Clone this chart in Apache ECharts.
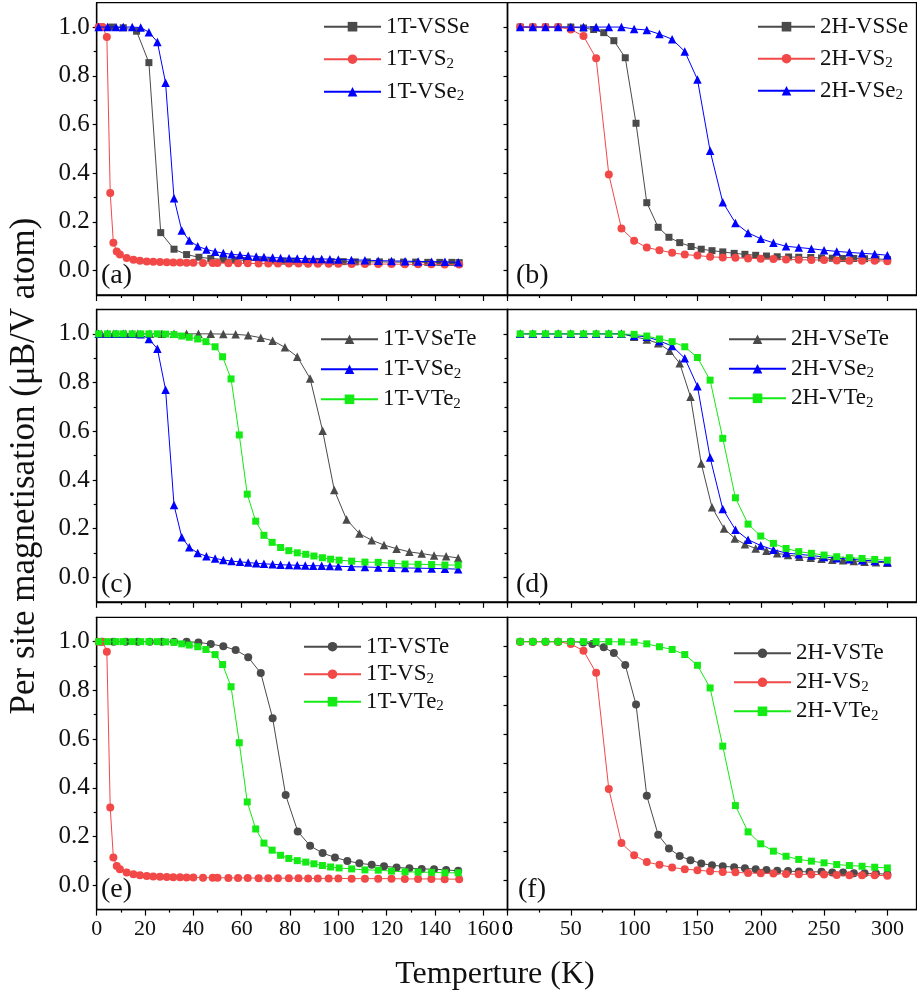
<!DOCTYPE html>
<html><head><meta charset="utf-8">
<script src="https://cdn.jsdelivr.net/npm/echarts@6/dist/echarts.min.js"></script>
<style>html,body{margin:0;padding:0;background:#fff}#c{width:917px;height:992px}</style>
</head><body><div id="c"></div>
<script>
// ---------------- DATA ----------------
// Temperatures (K) and per-site magnetisation (muB / V atom)
const T_1T_VSSe = [1.5, 6.2, 11, 16.5, 21.6, 26.5, 32, 37.2, 42.3, 47.2, 52.4, 57.2, 62, 67, 72, 77, 82, 87, 92, 97, 102, 107, 112, 117, 122, 127, 132, 137, 142, 147, 150];
const M_1T_VSSe = [1.0, 1.0, 0.997, 0.983, 0.854, 0.156, 0.088, 0.066, 0.055, 0.05, 0.046, 0.044, 0.042, 0.041, 0.04, 0.039, 0.039, 0.038, 0.038, 0.037, 0.037, 0.036, 0.036, 0.036, 0.035, 0.035, 0.035, 0.034, 0.034, 0.034, 0.033];

const T_1T_VS2 = [0.8, 2.5, 4.2, 5.6, 6.9, 8.3, 9.6, 12.4, 15.2, 17.9, 20.7, 23.4, 26.2, 29, 31.7, 34.5, 37.2, 40, 44, 48, 50, 54.5, 58.5, 62.5, 67, 71, 75, 79.5, 83.5, 87.5, 91.5, 96, 100, 105.5, 111, 116.5, 122, 127.5, 133, 138.5, 144, 150];
const M_1T_VS2 = [1.0, 1.0, 0.959, 0.319, 0.114, 0.079, 0.066, 0.052, 0.045, 0.041, 0.038, 0.036, 0.035, 0.034, 0.033, 0.033, 0.032, 0.032, 0.031, 0.031, 0.031, 0.030, 0.030, 0.030, 0.029, 0.029, 0.029, 0.029, 0.029, 0.028, 0.028, 0.028, 0.028, 0.027, 0.027, 0.027, 0.027, 0.026, 0.026, 0.026, 0.025, 0.025];

const T_1T_VSe2 = [0.8, 4.5, 8, 11, 14.7, 18.2, 21.6, 25.1, 28.5, 32, 35.2, 38.3, 41.8, 45.4, 49, 52.4, 55.8, 59.3, 62.7, 66, 69.2, 72.8, 76.1, 79.6, 83, 86.3, 89.6, 93.1, 96.5, 100, 105.4, 111, 116.5, 122, 127.6, 133, 138.6, 144.1, 149.6];
const M_1T_VSe2 = [1, 1, 1, 1, 1, 0.998, 0.979, 0.939, 0.771, 0.297, 0.165, 0.124, 0.1, 0.087, 0.078, 0.072, 0.067, 0.064, 0.061, 0.058, 0.056, 0.054, 0.052, 0.051, 0.05, 0.049, 0.048, 0.048, 0.047, 0.046, 0.044, 0.043, 0.041, 0.04, 0.039, 0.038, 0.037, 0.036, 0.034];

const T_1T_VSeTe = [2, 7, 12, 17, 22, 27, 32, 37.2, 42.1, 47.2, 52.4, 57.5, 62.7, 67.9, 72.8, 77.9, 83, 88.3, 93.5, 98.3, 103.4, 108.7, 113.8, 118.9, 124.1, 129.4, 134.5, 139.6, 144.6, 149.6];
const M_1T_VSeTe = [1, 1, 1, 1, 1, 1, 1, 1, 1, 1, 0.999, 0.998, 0.994, 0.984, 0.972, 0.945, 0.906, 0.817, 0.602, 0.359, 0.238, 0.18, 0.153, 0.133, 0.118, 0.105, 0.098, 0.09, 0.087, 0.08];

const T_1T_VTe2 = [0.8, 4.5, 8, 11, 14.7, 18.2, 21.6, 25.1, 28.5, 32, 35.2, 38.3, 41.8, 45.2, 49, 52.1, 55.6, 59, 62.3, 65.8, 69.2, 72.6, 76.1, 79.5, 83, 86.5, 89.9, 93.4, 96.8, 100.3, 105.5, 111, 116.5, 122, 127.6, 133, 138.6, 144.1, 149.6];
const M_1T_VTe2 = [1, 1, 1, 1, 1, 1, 1, 1, 0.999, 0.997, 0.991, 0.986, 0.979, 0.968, 0.947, 0.906, 0.815, 0.585, 0.342, 0.231, 0.173, 0.144, 0.123, 0.11, 0.101, 0.095, 0.088, 0.081, 0.075, 0.071, 0.067, 0.063, 0.062, 0.058, 0.055, 0.054, 0.053, 0.051, 0.051];

const T_1T_VSTe = [2, 7, 12, 17, 22, 27, 32, 37.2, 42.1, 47.2, 52.4, 57.5, 62.7, 67.9, 72.8, 78.2, 83.2, 88.3, 93.5, 98.6, 103.7, 108.7, 113.8, 118.9, 124.1, 129.4, 134.5, 139.6, 144.6, 149.6];
const M_1T_VSTe = [1, 1, 1, 1, 1, 1, 1, 1, 0.997, 0.99, 0.981, 0.966, 0.936, 0.871, 0.686, 0.37, 0.221, 0.162, 0.132, 0.114, 0.1, 0.09, 0.084, 0.078, 0.073, 0.07, 0.067, 0.066, 0.063, 0.059];

const T_2H_VSSe = [10, 20, 30, 40, 50, 60, 68, 76, 84, 93, 101.5, 110, 119, 127.5, 136, 145, 153, 161.5, 170, 179, 187.5, 196, 204.5, 213, 222, 230, 239.5, 248, 256.5, 264.5, 273.5, 282, 291, 300];
const M_2H_VSSe = [1, 1, 1, 1, 1, 0.996, 0.99, 0.977, 0.944, 0.874, 0.605, 0.279, 0.178, 0.137, 0.115, 0.099, 0.088, 0.082, 0.077, 0.071, 0.067, 0.063, 0.06, 0.057, 0.056, 0.055, 0.054, 0.052, 0.051, 0.05, 0.05, 0.049, 0.048, 0.046];

const T_2H_10K = [10, 20, 30, 40, 50, 60, 70, 80, 90, 100, 110, 120, 130, 140, 150, 160, 170, 180, 190, 200, 210, 220, 230, 240, 250, 260, 270, 280, 290, 300];
const M_2H_VS2 = [1, 1, 1, 1, 0.99, 0.963, 0.872, 0.395, 0.173, 0.123, 0.095, 0.084, 0.073, 0.066, 0.062, 0.057, 0.054, 0.053, 0.05, 0.049, 0.048, 0.046, 0.045, 0.044, 0.044, 0.042, 0.041, 0.041, 0.041, 0.039];
const M_2H_VSe2 = [1, 1, 1, 1, 1, 1, 1, 1, 1, 0.992, 0.988, 0.971, 0.95, 0.9, 0.785, 0.492, 0.281, 0.196, 0.155, 0.131, 0.114, 0.1, 0.095, 0.09, 0.084, 0.079, 0.075, 0.071, 0.068, 0.063];
const M_2H_VTe2 = [1, 1, 1, 1, 1, 1, 1, 1, 0.999, 0.998, 0.991, 0.979, 0.968, 0.947, 0.903, 0.81, 0.571, 0.327, 0.219, 0.17, 0.14, 0.119, 0.106, 0.099, 0.092, 0.085, 0.081, 0.078, 0.074, 0.071];

const T_2H_VSeTe = [10, 20, 30, 40, 50, 60, 70, 80, 90, 100, 110, 119, 128, 136, 144.5, 153, 161.5, 171, 179.5, 187.5, 196, 204.5, 213, 221.5, 230.5, 239.5, 248, 256.5, 265, 273.5, 282, 291, 300];
const M_2H_VSeTe = [1, 1, 1, 1, 1, 1, 1, 1, 1, 0.988, 0.977, 0.961, 0.931, 0.879, 0.742, 0.468, 0.288, 0.201, 0.16, 0.136, 0.119, 0.11, 0.099, 0.092, 0.085, 0.081, 0.077, 0.073, 0.071, 0.067, 0.064, 0.062, 0.06];

const T_2H_VSTe = [10, 20, 30, 40, 50, 60, 67, 76, 84, 93, 101.5, 110, 119, 127.5, 136, 144.5, 153, 161.5, 170, 179, 187.5, 196, 204.5, 213, 221.5, 230, 238.5, 248, 256.5, 265, 273.5, 282, 291, 300];
const M_2H_VSTe = [1, 1, 1, 1, 1, 0.997, 0.99, 0.977, 0.953, 0.904, 0.742, 0.367, 0.207, 0.151, 0.12, 0.103, 0.089, 0.082, 0.078, 0.074, 0.07, 0.066, 0.063, 0.059, 0.058, 0.056, 0.055, 0.055, 0.052, 0.052, 0.049, 0.049, 0.048, 0.045];

// Tick labels / tick positions
const X_LABELS_1T = [0, 20, 40, 60, 80, 100, 120, 140, 160];
const X_MINOR_1T = [10, 30, 50, 70, 90, 110, 130, 150, 170];
const X_LABELS_2H = [0, 50, 100, 150, 200, 250, 300];
const X_MINOR_2H = [25, 75, 125, 175, 225, 275];
const Y_LABELS = [0, 0.2, 0.4, 0.6, 0.8, 1.0];
const Y_MINOR = [0.1, 0.3, 0.5, 0.7, 0.9];
const Y_TICKS_F = [0.1, 0.2, 0.3, 0.4, 0.5, 0.6, 0.7, 0.8, 0.9];

const PANEL_LABELS = ['(a)', '(b)', '(c)', '(d)', '(e)', '(f)'];
const X_TITLE = 'Temperture (K)';
const Y_TITLE = 'Per site magnetisation (\u03BCB/V atom)';

// ---------------- STYLE / LAYOUT ----------------
const FONT = 'Liberation Serif';
const GRAY = '#4a4a4a', RED = '#f24848', BLUE = '#0000ff', GREEN = '#14ea14';

const panels = [
  { series: [['1T-VSSe', T_1T_VSSe, M_1T_VSSe, 'rect', GRAY], ['1T-VS2', T_1T_VS2, M_1T_VS2, 'circle', RED], ['1T-VSe2', T_1T_VSe2, M_1T_VSe2, 'triangle', BLUE]],
    lg: [323, 14.7, 8.5], lab: [101, 262] },
  { series: [['2H-VSSe', T_2H_VSSe, M_2H_VSSe, 'rect', GRAY], ['2H-VS2', T_2H_10K, M_2H_VS2, 'circle', RED], ['2H-VSe2', T_2H_10K, M_2H_VSe2, 'triangle', BLUE]],
    lg: [757, 14.7, 8], lab: [516, 262] },
  { series: [['1T-VSeTe', T_1T_VSeTe, M_1T_VSeTe, 'triangle', GRAY], ['1T-VSe2', T_1T_VSe2, M_1T_VSe2, 'triangle', BLUE], ['1T-VTe2', T_1T_VTe2, M_1T_VTe2, 'rect', GREEN]],
    lg: [320, 327.3, 6], lab: [101, 571] },
  { series: [['2H-VSeTe', T_2H_VSeTe, M_2H_VSeTe, 'triangle', GRAY], ['2H-VSe2', T_2H_10K, M_2H_VSe2, 'triangle', BLUE], ['2H-VTe2', T_2H_10K, M_2H_VTe2, 'rect', GREEN]],
    lg: [728, 327.3, 5.5], lab: [516, 571] },
  { series: [['1T-VSTe', T_1T_VSTe, M_1T_VSTe, 'circle', GRAY], ['1T-VS2', T_1T_VS2, M_1T_VS2, 'circle', RED], ['1T-VTe2', T_1T_VTe2, M_1T_VTe2, 'rect', GREEN]],
    lg: [303, 634.7, 3.5], lab: [101, 876] },
  { series: [['2H-VSTe', T_2H_VSTe, M_2H_VSTe, 'circle', GRAY], ['2H-VS2', T_2H_10K, M_2H_VS2, 'circle', RED], ['2H-VTe2', T_2H_10K, M_2H_VTe2, 'rect', GREEN]],
    lg: [733, 641.3, 5], lab: [518, 876] }
];

const cols = [
  { left: 96.7, width: 410.8, max: 170, major: X_LABELS_1T, minor: X_MINOR_1T },
  { left: 507.5, width: 409, max: 323, major: X_LABELS_2H, minor: X_MINOR_2H }
];
const rows = [2.7, 309.5, 617.3];
const H = 292.3;
const X_LABEL_SIZE = 22, X_LABEL_MARGIN = 9;

const grid = [], xAxis = [], yAxis = [], series = [], legend = [], title = [];
const lineC = '#000';
for (let g = 0; g < 6; g++) {
  const r = Math.floor(g / 2), c = g % 2, col = cols[c];
  grid.push({ left: col.left, top: rows[r], width: col.width, height: H, show: true, borderColor: lineC, borderWidth: 1.3, backgroundColor: 'transparent' });
  xAxis.push({ type: 'value', gridIndex: g, position: 'bottom', min: 0, max: col.max,
    axisLine: { show: true, onZero: false, lineStyle: { color: lineC, width: 1.3 } },
    axisTick: { show: true, customValues: col.major, length: 6, lineStyle: { color: lineC, width: 1.2 } },
    axisLabel: { show: r === 2, customValues: col.major, showMinLabel: true, hideOverlap: false,
      fontSize: X_LABEL_SIZE, fontFamily: FONT, color: '#111', margin: X_LABEL_MARGIN },
    splitLine: { show: false } });
  xAxis.push({ type: 'value', gridIndex: g, position: 'bottom', min: 0, max: col.max,
    axisLine: { show: false, onZero: false },
    axisTick: { show: true, customValues: col.minor, length: 3, lineStyle: { color: lineC, width: 1.2 } },
    axisLabel: { show: false }, splitLine: { show: false } });
  yAxis.push({ type: 'value', gridIndex: g, position: 'left', min: -0.1, max: 1.1,
    axisLine: { show: true, onZero: false, lineStyle: { color: lineC, width: 1.3 } },
    axisTick: { show: g !== 5, customValues: Y_LABELS, length: 4, lineStyle: { color: lineC, width: 1.2 } },
    axisLabel: { show: c === 0, customValues: Y_LABELS, formatter: v => Number(v).toFixed(1), fontSize: 25, fontFamily: FONT, color: '#111', margin: 7 },
    splitLine: { show: false } });
  if (g === 5) {
    yAxis.push({ type: 'value', gridIndex: g, position: 'left', min: 0, max: 1,
      axisLine: { show: false, onZero: false },
      axisTick: { show: true, customValues: Y_TICKS_F, length: 4, lineStyle: { color: lineC, width: 1.2 } },
      axisLabel: { show: false }, splitLine: { show: false } });
  } else {
    yAxis.push({ type: 'value', gridIndex: g, position: 'left', min: -0.1, max: 1.1,
      axisLine: { show: false, onZero: false },
      axisTick: { show: true, customValues: Y_MINOR, length: 3, lineStyle: { color: lineC, width: 1.2 } },
      axisLabel: { show: false }, splitLine: { show: false } });
  }
  const p = panels[g];
  p.series.forEach((s, k) => {
    const [name, T, M, sym, color] = s;
    series.push({ type: 'line', name, xAxisIndex: 2 * g, yAxisIndex: 2 * g,
      data: T.map((t, i) => [t, M[i]]),
      symbol: sym, symbolSize: sym === 'rect' ? 7 : (sym === 'triangle' ? 8.5 : 8),
      showSymbol: true, showAllSymbol: true, clip: false,
      lineStyle: { color, width: 1 }, itemStyle: { color }, z: 2 + k, animation: false });
  });
  legend.push({ data: p.series.map(s => s[0]), orient: 'vertical', left: p.lg[0], top: p.lg[1], itemGap: p.lg[2],
    itemWidth: 57, itemHeight: 12, padding: 0, selectedMode: false,
    formatter: n => n.replace(/2$/, '{sub|2}'),
    textStyle: { fontFamily: FONT, fontSize: 23, color: '#111', lineHeight: 24,
      rich: { sub: { fontFamily: FONT, fontSize: 15, lineHeight: 13, verticalAlign: 'bottom', color: '#111' } } } });
  title.push({ text: PANEL_LABELS[g], left: p.lab[0], top: p.lab[1], padding: 0,
    textStyle: { fontFamily: FONT, fontSize: 28, fontWeight: 'normal', color: '#111' } });
}
// origin "0" of panel (f), written as a title anchored at the left edge of the (f) grid
title.push({ text: String(X_LABELS_2H[0]), left: cols[1].left - 5.5, top: rows[2] + H + X_LABEL_MARGIN, padding: 0, z: 50,
  textStyle: { fontFamily: FONT, fontSize: X_LABEL_SIZE, fontWeight: 'normal', color: '#111' } });

const chart = echarts.init(document.getElementById('c'), null, { renderer: 'canvas' });
chart.setOption({
  animation: false,
  backgroundColor: '#fff',
  grid, xAxis, yAxis, series, legend, title,
  graphic: [
    { type: 'text', x: 25, y: 466, rotation: Math.PI / 2, z: 100,
      style: { text: Y_TITLE, fontSize: 35, fontFamily: FONT, fill: '#111', align: 'center', verticalAlign: 'middle' } },
    { type: 'text', x: 495, y: 975, z: 100,
      style: { text: X_TITLE, fontSize: 32, fontFamily: FONT, fill: '#111', align: 'center', verticalAlign: 'middle' } },
    { type: 'text', x: cols[1].left, y: rows[2] + H + X_LABEL_MARGIN, z: 100, zlevel: 5,
      style: { text: ' 0 ', fontSize: X_LABEL_SIZE, fontFamily: FONT, fill: '#111', align: 'center', verticalAlign: 'top' } }
  ]
});
</script></body></html>
